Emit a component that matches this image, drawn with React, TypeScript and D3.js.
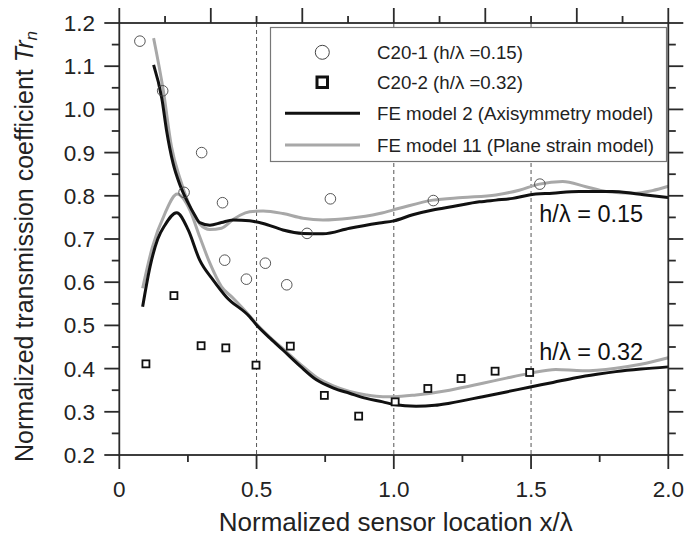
import React from "react";
import * as d3 from "d3";

const xTicksMajor = [0, 0.5, 1.0, 1.5, 2.0];
const xTickLabels = ["0", "0.5", "1.0", "1.5", "2.0"];
const yTicksMajor = [0.2, 0.3, 0.4, 0.5, 0.6, 0.7, 0.8, 0.9, 1.0, 1.1, 1.2];
const yTickLabels = ["0.2", "0.3", "0.4", "0.5", "0.6", "0.7", "0.8", "0.9", "1.0", "1.1", "1.2"];
const dashedX = [0.5, 1.0, 1.5];

const c201X = [0.075, 0.158, 0.236, 0.30, 0.376, 0.384, 0.463, 0.532, 0.61, 0.684, 0.769, 1.144, 1.532];
const c201Y = [1.158, 1.043, 0.808, 0.90, 0.784, 0.651, 0.607, 0.644, 0.594, 0.713, 0.793, 0.789, 0.827];

const c202X = [0.097, 0.199, 0.298, 0.388, 0.498, 0.623, 0.747, 0.872, 1.005, 1.124, 1.245, 1.369, 1.495];
const c202Y = [0.411, 0.569, 0.453, 0.448, 0.408, 0.452, 0.338, 0.290, 0.323, 0.354, 0.377, 0.394, 0.391];

const fe2Low015: [number, number][] = [
  [0.125, 1.103], [0.155, 1.025], [0.172, 0.952], [0.196, 0.875], [0.221, 0.825], [0.251, 0.783],
  [0.275, 0.755], [0.293, 0.738], [0.33, 0.732], [0.372, 0.738], [0.415, 0.744], [0.475, 0.742],
  [0.524, 0.736], [0.596, 0.721], [0.669, 0.713], [0.742, 0.712], [0.839, 0.725], [0.948, 0.737],
  [1.0, 0.742], [1.069, 0.756], [1.142, 0.767], [1.215, 0.775], [1.312, 0.786], [1.372, 0.79],
  [1.433, 0.794], [1.493, 0.802], [1.578, 0.806], [1.675, 0.81], [1.796, 0.81], [1.869, 0.806],
  [1.918, 0.802], [2.0, 0.796],
];
const fe11Low015: [number, number][] = [
  [0.125, 1.165], [0.16, 1.045], [0.19, 0.914], [0.221, 0.84], [0.251, 0.785], [0.293, 0.735],
  [0.33, 0.722], [0.372, 0.725], [0.415, 0.745], [0.44, 0.755], [0.475, 0.763], [0.524, 0.765],
  [0.596, 0.759], [0.669, 0.748], [0.742, 0.744], [0.839, 0.748], [0.948, 0.759], [1.02, 0.771],
  [1.142, 0.79], [1.251, 0.796], [1.372, 0.802], [1.457, 0.813], [1.53, 0.827], [1.615, 0.833],
  [1.7, 0.821], [1.773, 0.81], [1.869, 0.806], [1.942, 0.812], [2.0, 0.822],
];
const fe2Low032: [number, number][] = [
  [0.085, 0.543], [0.112, 0.636], [0.14, 0.70], [0.166, 0.732], [0.209, 0.761], [0.251, 0.721],
  [0.293, 0.651], [0.342, 0.605], [0.39, 0.566], [0.475, 0.52], [0.5, 0.501], [0.55, 0.47],
  [0.596, 0.443], [0.66, 0.405], [0.718, 0.374], [0.78, 0.355], [0.839, 0.343], [0.9, 0.331],
  [0.96, 0.323], [1.0, 0.317], [1.081, 0.313], [1.15, 0.315], [1.203, 0.32], [1.324, 0.335],
  [1.41, 0.346], [1.493, 0.357], [1.58, 0.368], [1.663, 0.379], [1.74, 0.387], [1.809, 0.393],
  [1.9, 0.399], [2.0, 0.404],
];
const fe11Low032: [number, number][] = [
  [0.085, 0.586], [0.12, 0.68], [0.166, 0.759], [0.211, 0.804], [0.257, 0.767], [0.293, 0.705],
  [0.33, 0.644], [0.372, 0.59], [0.415, 0.563], [0.475, 0.522], [0.5, 0.503], [0.55, 0.472],
  [0.596, 0.446], [0.66, 0.41], [0.718, 0.38], [0.78, 0.36], [0.839, 0.347], [0.9, 0.339],
  [0.96, 0.335], [1.0, 0.335], [1.081, 0.339], [1.203, 0.35], [1.324, 0.366], [1.41, 0.378],
  [1.495, 0.389], [1.59, 0.398], [1.687, 0.395], [1.809, 0.401], [1.9, 0.41], [2.0, 0.425],
];

const legendLabels = [
  "C20-1 (h/\u03bb =0.15)",
  "C20-2 (h/\u03bb =0.32)",
  "FE model 2 (Axisymmetry model)",
  "FE model 11 (Plane strain model)",
];
const curveLabels = ["h/\u03bb = 0.15", "h/\u03bb = 0.32"];
const curveLabelPos: [number, number][] = [[1.53, 0.739], [1.53, 0.42]];

const W = 699, H = 542;
const L = 119.3, R = 668.3, T = 23, B = 455;
const FONT = "'Liberation Sans', Arial, sans-serif";
const BLACK = "#111";
const GRAY = "#a8a8a8";
const AX = "#2a2a2a";

export default function App() {
  const x = d3.scaleLinear().domain([0, 2]).range([L, R]);
  const y = d3.scaleLinear().domain([0.2, 1.2]).range([B, T]);
  const line = d3.line<[number, number]>().x(d => x(d[0])).y(d => y(d[1])).curve(d3.curveMonotoneX);

  const xMinor = d3.range(0, 2.001, 0.25);
  const topTicks = d3.range(0, 13).map(i => (i * 2) / 12);
  const yMinor = d3.range(0.2, 1.2001, 0.05);
  const legendY = [52.3, 82.3, 113.3, 145];

  return (
    <svg width={W} height={H} style={{ position: "absolute", left: 0, top: 0, background: "#fff" }} fontFamily={FONT}>
      <rect x={0} y={0} width={W} height={H} fill="#fff" />
      {dashedX.map(v => (
        <line key={v} x1={x(v)} x2={x(v)} y1={T} y2={B} stroke="#555" strokeWidth={1} strokeDasharray="4,3" />
      ))}
      <rect x={270.5} y={27.5} width={396} height={134} fill="#fff" stroke="#777" strokeWidth={1.2} />
      <circle cx={322.3} cy={legendY[0]} r={7} fill="none" stroke="#444" strokeWidth={1} />
      <rect x={317} y={legendY[1] - 5.3} width={10.5} height={10.5} fill="none" stroke={BLACK} strokeWidth={3} />
      <line x1={285} x2={360} y1={legendY[2]} y2={legendY[2]} stroke={BLACK} strokeWidth={3} />
      <line x1={285} x2={360} y1={legendY[3]} y2={legendY[3]} stroke={GRAY} strokeWidth={3} />
      {legendLabels.map((t, i) => (
        <text key={t} x={377} y={legendY[i] + 6.5} fontSize={18.7} fill="#222">{t}</text>
      ))}
      <path d={line(fe11Low015) || ""} fill="none" stroke={GRAY} strokeWidth={3} />
      <path d={line(fe11Low032) || ""} fill="none" stroke={GRAY} strokeWidth={3} />
      <path d={line(fe2Low015) || ""} fill="none" stroke={BLACK} strokeWidth={3} />
      <path d={line(fe2Low032) || ""} fill="none" stroke={BLACK} strokeWidth={3} />
      {c201X.map((v, i) => (
        <circle key={"c" + i} cx={x(v)} cy={y(c201Y[i])} r={5.3} fill="none" stroke="#444" strokeWidth={0.9} />
      ))}
      {c202X.map((v, i) => (
        <rect key={"s" + i} x={x(v) - 3.5} y={y(c202Y[i]) - 3.5} width={7} height={7} fill="#fff" stroke={BLACK} strokeWidth={1.8} />
      ))}
      {curveLabels.map((t, i) => (
        <text key={t} x={x(curveLabelPos[i][0])} y={y(curveLabelPos[i][1])} fontSize={23.5} fill="#111">{t}</text>
      ))}
      <rect x={L} y={T} width={R - L} height={B - T} fill="none" stroke={AX} strokeWidth={1.8} />
      {xMinor.map(v => {
        const major = Math.abs(v * 2 - Math.round(v * 2)) < 1e-6;
        return <line key={"bx" + v} x1={x(v)} x2={x(v)} y1={B} y2={B + (major ? 14 : 7)} stroke={AX} strokeWidth={1.8} />;
      })}
      {topTicks.map((v, i) => (
        <line key={"tx" + i} x1={x(v)} x2={x(v)} y1={T} y2={T - (i % 2 === 0 ? 15 : 7)} stroke={AX} strokeWidth={1.8} />
      ))}
      {yMinor.map((v, i) => {
        const major = i % 2 === 0;
        const len = major ? 15 : 7.5;
        return (
          <g key={"y" + i}>
            <line x1={L} x2={L - len} y1={y(v)} y2={y(v)} stroke={AX} strokeWidth={1.8} />
            <line x1={R} x2={R + len} y1={y(v)} y2={y(v)} stroke={AX} strokeWidth={1.8} />
          </g>
        );
      })}
      {xTicksMajor.map((v, i) => (
        <text key={"xl" + v} x={x(v)} y={497} textAnchor="middle" fontSize={22.5} fill="#222">{xTickLabels[i]}</text>
      ))}
      {yTicksMajor.map((v, i) => (
        <text key={"yl" + v} x={95} y={y(v) + 8} textAnchor="end" fontSize={22.5} fill="#222">{yTickLabels[i]}</text>
      ))}
      <text x={(L + R) / 2 + 2} y={531} textAnchor="middle" fontSize={26} fill="#222">Normalized sensor location x/{"\u03bb"}</text>
      <text transform={`translate(33,${(T + 470) / 2}) rotate(-90)`} textAnchor="middle" fontSize={25} fill="#222">
        Normalized transmission coefficient <tspan fontStyle="italic">Tr</tspan><tspan fontStyle="italic" fontSize={17} dy={4}>n</tspan>
      </text>
    </svg>
  );
}
